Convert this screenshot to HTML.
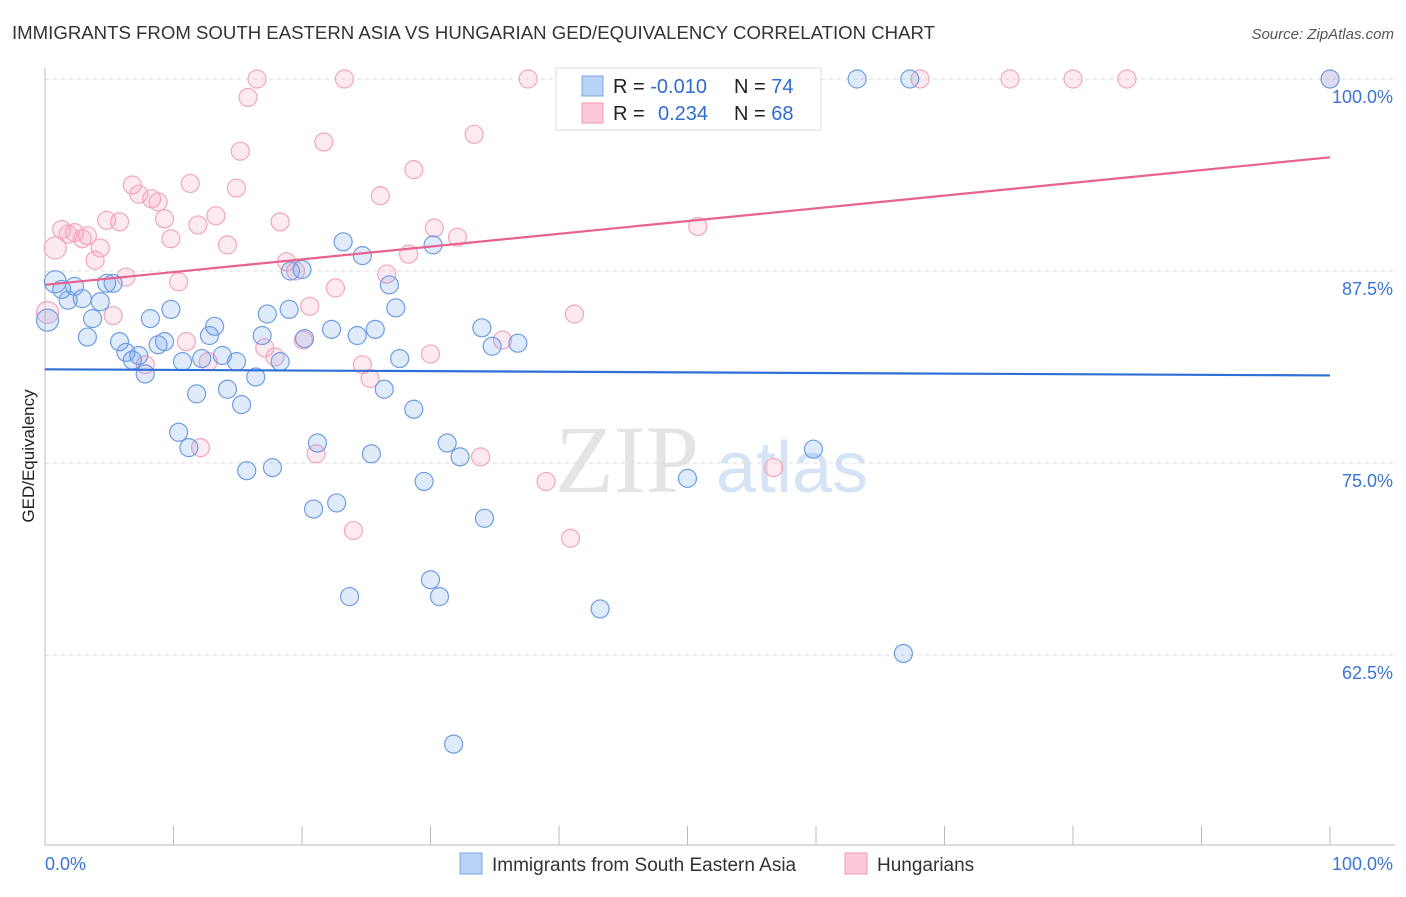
<!DOCTYPE html>
<html><head><meta charset="utf-8"><style>
body{margin:0;background:#fff;font-family:"Liberation Sans",sans-serif;}
svg text{font-family:"Liberation Sans",sans-serif;}
</style></head><body>
<svg id="chart" width="1406" height="892" xmlns="http://www.w3.org/2000/svg">
<text x="12" y="39" font-size="18" fill="#333" textLength="923" lengthAdjust="spacingAndGlyphs">IMMIGRANTS FROM SOUTH EASTERN ASIA VS HUNGARIAN GED/EQUIVALENCY CORRELATION CHART</text>
<text x="1394" y="39" font-size="15" fill="#555" text-anchor="end" font-style="italic">Source: ZipAtlas.com</text>
<text x="34" y="456" font-size="17" fill="#222" text-anchor="middle" transform="rotate(-90 34 456)">GED/Equivalency</text>
<g>
<text x="555" y="492" font-size="96" fill="#e4e4e4" font-family="Liberation Serif" style="font-family:'Liberation Serif',serif">ZIP</text>
<text x="716" y="492" font-size="72" fill="#d5e3f4">atlas</text>
</g>
<g id="grid"></g><g id="axes"></g><g id="pts"></g><g id="lines"></g>
<g>
<rect x="556" y="68" width="265" height="62" fill="#fff" stroke="#ddd"/>
<rect x="582" y="76" width="21" height="20" fill="#b9d3f7" stroke="#7aa6e6"/>
<rect x="582" y="103" width="21" height="20" fill="#fbc9d7" stroke="#ef9ab4"/>
<text x="613" y="93" font-size="20" fill="#222">R = <tspan fill="#2f6cd0">-0.010</tspan></text>
<text x="734" y="93" font-size="20" fill="#222">N = <tspan fill="#2f6cd0">74</tspan></text>
<text x="613" y="120" font-size="20" fill="#222">R = <tspan fill="#2f6cd0" x="658">0.234</tspan></text>
<text x="734" y="120" font-size="20" fill="#222">N = <tspan fill="#2f6cd0">68</tspan></text>
</g>
<g>
<rect x="460" y="853" width="22" height="21" fill="#b9d3f7" stroke="#7aa6e6"/>
<text x="492" y="871" font-size="19" fill="#333">Immigrants from South Eastern Asia</text>
<rect x="845" y="853" width="22" height="21" fill="#fbc9d7" stroke="#ef9ab4"/>
<text x="877" y="871" font-size="19" fill="#333">Hungarians</text>
</g>
</svg>
<script>
const blueX=[0.8,1.3,2.3,1.8,2.9,4.3,5.3,4.8,3.7,3.3,5.8,6.3,7.3,6.8,7.8,8.2,9.8,8.8,9.3,10.7,11.8,11.2,10.4,12.2,12.8,13.2,13.8,14.2,14.9,15.3,16.4,15.7,16.9,17.3,17.7,18.3,19.0,19.1,20.0,20.2,21.2,20.9,22.3,22.7,23.2,23.7,24.3,24.7,25.4,25.7,26.4,26.8,27.3,27.6,28.7,29.5,30.0,30.2,30.7,31.3,32.3,31.8,34.0,34.2,34.8,36.8,43.2,50.0,59.8,63.2,67.3,66.8,100,0.2];
const blueY=[86.8,86.3,86.5,85.6,85.7,85.5,86.7,86.7,84.4,83.2,82.9,82.2,82.0,81.7,80.8,84.4,85.0,82.7,82.9,81.6,79.5,76.0,77.0,81.8,83.3,83.9,82.0,79.8,81.6,78.8,80.6,74.5,83.3,84.7,74.7,81.6,85.0,87.5,87.6,83.1,76.3,72.0,83.7,72.4,89.4,66.3,83.3,88.5,75.6,83.7,79.8,86.6,85.1,81.8,78.5,73.8,67.4,89.2,66.3,76.3,75.4,56.7,83.8,71.4,82.6,82.8,65.5,74.0,75.9,100,100,62.6,100,84.3];
const pinkX=[0.8,0.2,1.3,1.8,2.3,2.9,3.3,3.9,4.3,4.8,5.3,5.8,6.3,6.8,7.3,7.8,8.3,8.8,9.3,9.8,10.4,11.0,11.3,11.9,12.1,12.7,13.3,14.2,14.9,15.2,15.8,16.5,17.1,17.9,18.3,18.8,19.5,20.1,20.6,21.1,21.7,22.6,23.3,24.0,24.7,25.3,26.1,26.6,28.3,28.7,30.0,30.3,32.1,33.4,33.9,35.6,37.6,39.0,40.9,41.2,50.8,53.9,56.7,68.1,75.1,80.0,84.2,100];
const pinkY=[89.0,84.8,90.2,89.9,90.0,89.6,89.8,88.2,89.0,90.8,84.6,90.7,87.1,93.1,92.5,81.4,92.2,92.0,90.9,89.6,86.8,82.9,93.2,90.5,76.0,81.6,91.1,89.2,92.9,95.3,98.8,100,82.5,81.9,90.7,88.1,87.5,83.0,85.2,75.6,95.9,86.4,100,70.6,81.4,80.5,92.4,87.3,88.6,94.1,82.1,90.3,89.7,96.4,75.4,83.0,100,73.8,70.1,84.7,90.4,100,74.7,100,100,100,100,100];
const blueTrend=[81.1,80.7];
const pinkTrend=[86.6,94.9];
const yTicks=[100,87.5,75,62.5];
const yTickLabels=["100.0%","87.5%","75.0%","62.5%"];
const NS="http://www.w3.org/2000/svg";
const sx=v=>45+v*12.85;
const sy=v=>79+(100-v)*15.36;
function mk(tag,attrs,parent){const e=document.createElementNS(NS,tag);for(const k in attrs)e.setAttribute(k,attrs[k]);document.getElementById(parent).appendChild(e);return e;}
yTicks.forEach((t,i)=>{
 const l=mk('line',{x1:45,x2:1395,y1:sy(t),y2:sy(t),stroke:'#ddd','stroke-dasharray':'4,4'},'grid');
 
 
 const tx=mk('text',{x:1393,y:sy(t)+24,'font-size':18,fill:'#3b74d4','text-anchor':'end'},'grid');
 tx.textContent=yTickLabels[i];
 
 
});
const ax=mk('line',{x1:45,x2:1395,y1:845,y2:845,stroke:'#bbb'},'axes');


const ay=mk('line',{x1:45,x2:45,y1:68,y2:845,stroke:'#bbb'},'axes');


for(let i=0;i<=10;i++){const t=mk('line',{x1:sx(i*10),x2:sx(i*10),y1:826,y2:845,stroke:'#bbb'},'axes');
 
 }
const xl=mk('text',{x:45,y:870,'font-size':18,fill:'#3b74d4'},'axes');xl.textContent='0.0%';


const xr=mk('text',{x:1393,y:870,'font-size':18,fill:'#3b74d4','text-anchor':'end'},'axes');xr.textContent='100.0%';


pinkX.forEach((x,i)=>{const c=mk('circle',{cx:sx(x),cy:sy(pinkY[i]),r:x<1?11:9,fill:'rgba(244,160,188,0.22)',stroke:'#f2a6be','stroke-width':1.2},'pts');
 
 });
blueX.forEach((x,i)=>{const c=mk('circle',{cx:sx(x),cy:sy(blueY[i]),r:x<1?11:9,fill:'rgba(110,160,235,0.22)',stroke:'#6f9de2','stroke-width':1.2},'pts');
 
 });
const bl=mk('line',{x1:sx(0),x2:sx(100),y1:sy(blueTrend[0]),y2:sy(blueTrend[1]),stroke:'#2f6fd6','stroke-width':2.2},'lines');


const pl=mk('line',{x1:sx(0),x2:sx(100),y1:sy(pinkTrend[0]),y2:sy(pinkTrend[1]),stroke:'#e8628f','stroke-width':2.2},'lines');


</script>
</body></html>
